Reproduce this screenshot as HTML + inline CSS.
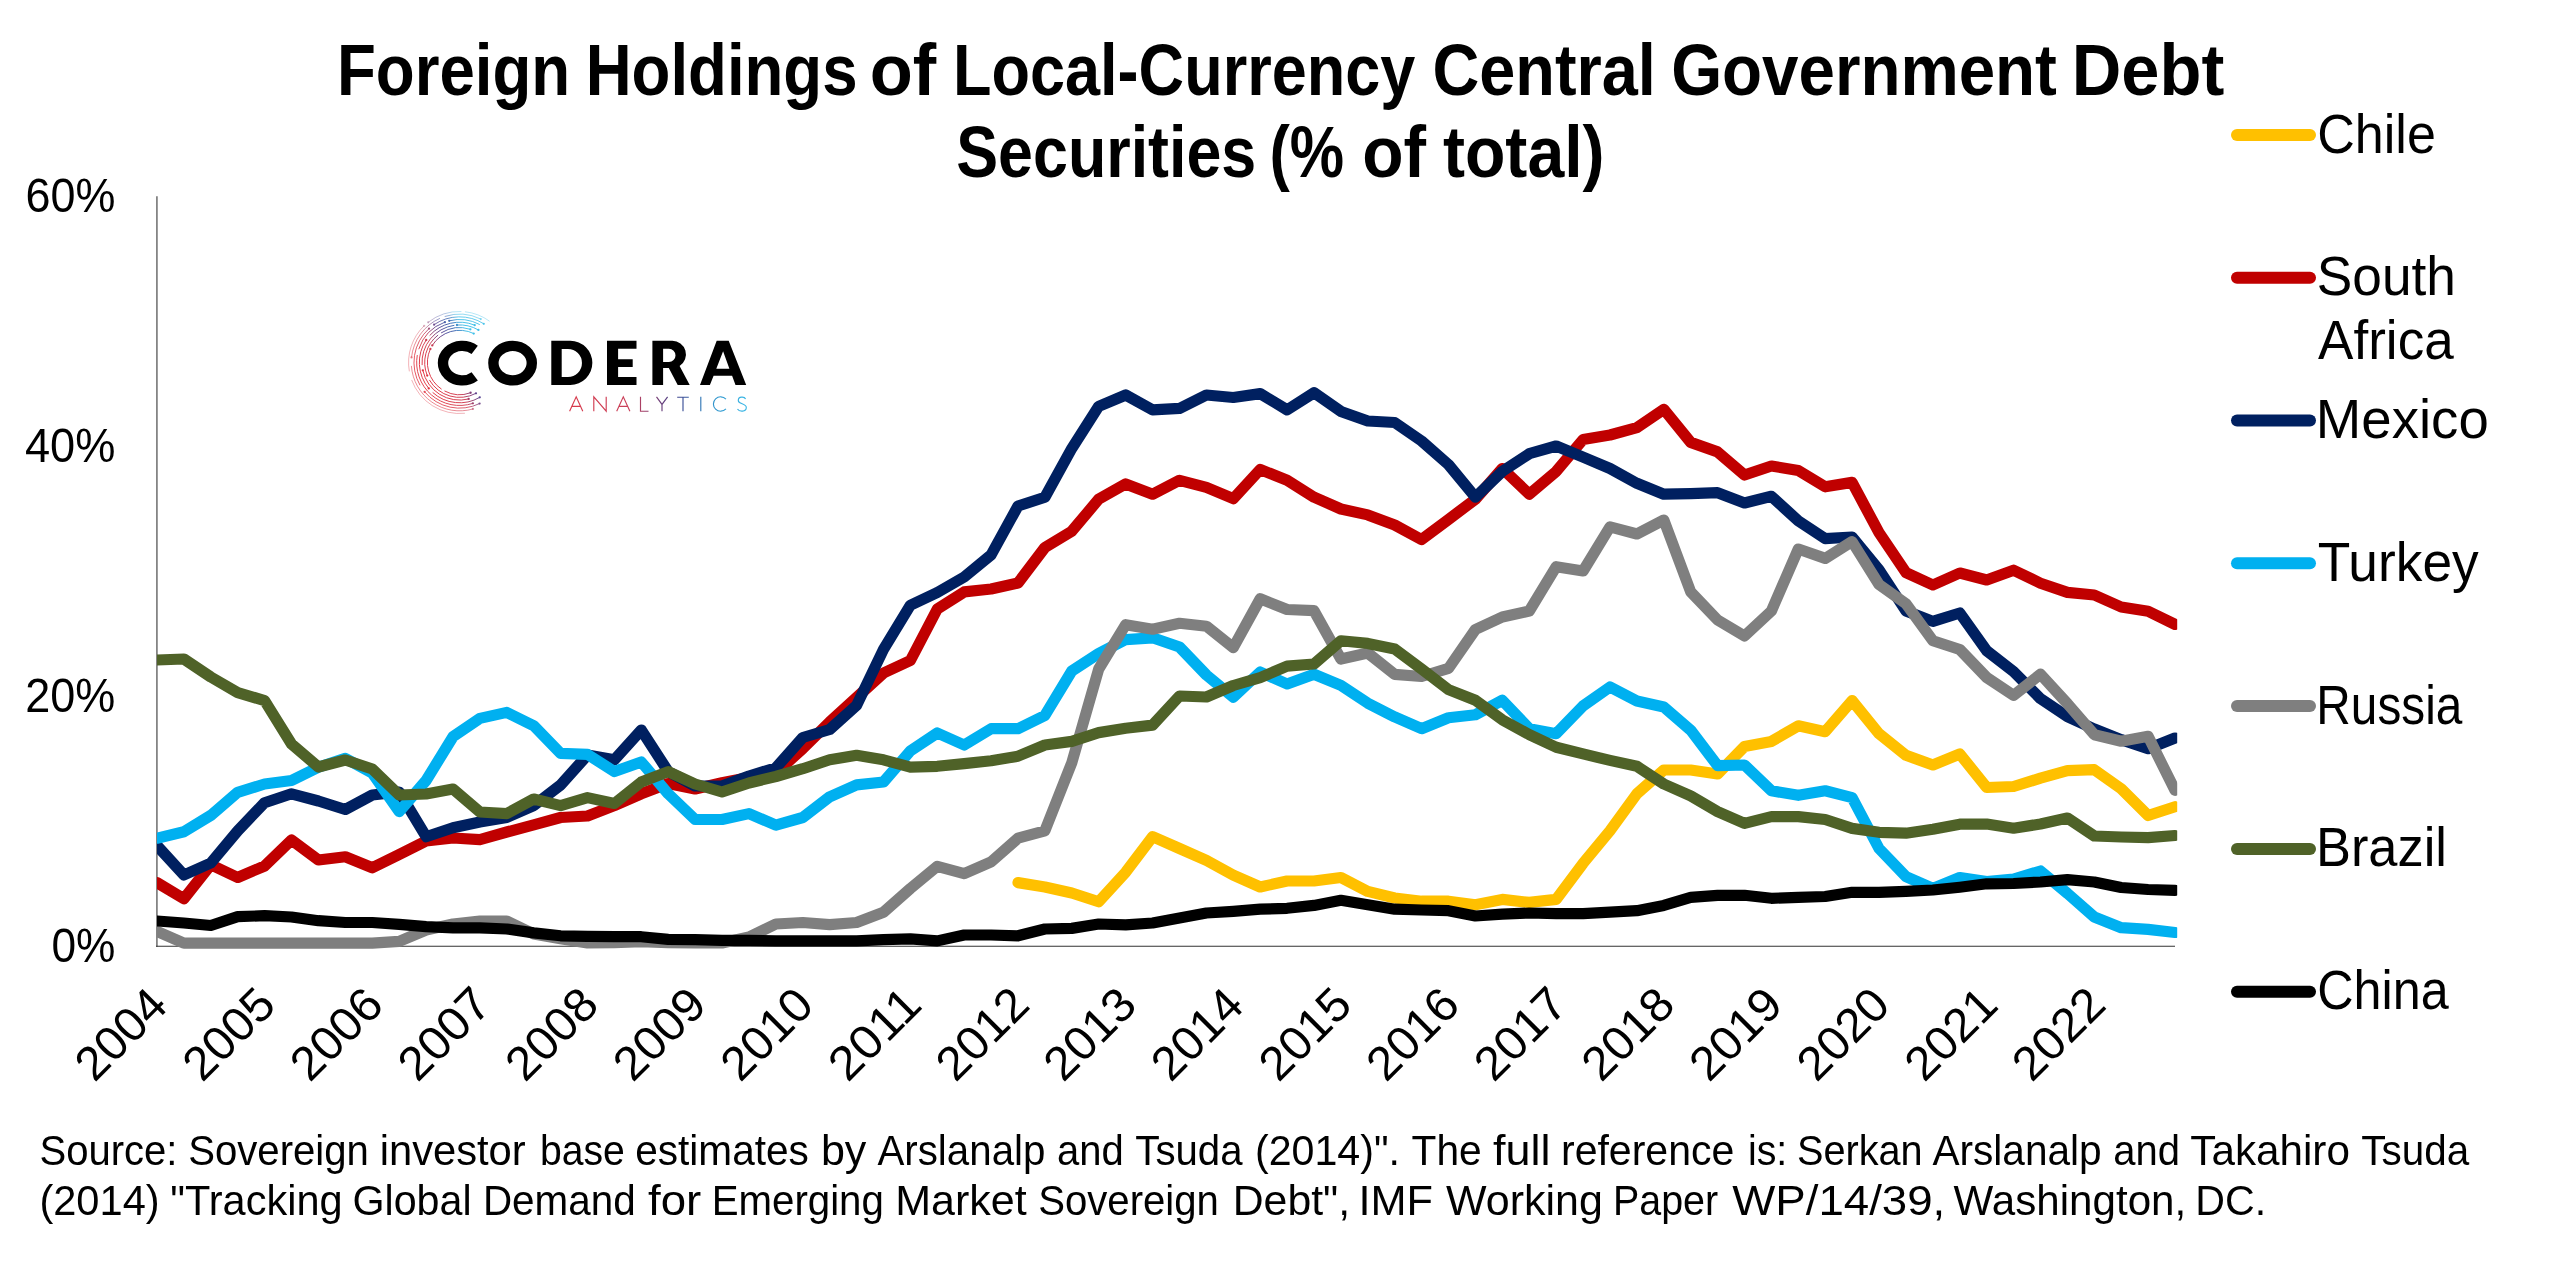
<!DOCTYPE html>
<html><head><meta charset="utf-8"><title>Foreign Holdings of Local-Currency Central Government Debt Securities</title>
<style>
html,body{margin:0;padding:0;background:#fff;}
body{width:2560px;height:1284px;overflow:hidden;font-family:"Liberation Sans",sans-serif;}
svg{display:block;will-change:transform;}
svg text{font-family:"Liberation Sans",sans-serif;fill:#000;}
</style></head><body>
<svg width="2560" height="1284" viewBox="0 0 2560 1284">
<defs>
<clipPath id="plot"><rect x="157" y="190" width="2020.2" height="770"/></clipPath>
<linearGradient id="lg" gradientUnits="userSpaceOnUse" x1="428" y1="380" x2="478" y2="350">
<stop offset="0" stop-color="#e0323f"/><stop offset="0.35" stop-color="#cf3a4e"/><stop offset="0.6" stop-color="#5b418f"/><stop offset="0.85" stop-color="#3a6ab5"/><stop offset="1" stop-color="#3fbfe8"/></linearGradient>
<linearGradient id="tg" gradientUnits="userSpaceOnUse" x1="569" y1="0" x2="746" y2="0">
<stop offset="0" stop-color="#d8394b"/><stop offset="0.35" stop-color="#c8405a"/><stop offset="0.6" stop-color="#3f3f8a"/><stop offset="0.8" stop-color="#2f8fc8"/><stop offset="1" stop-color="#3cb8e6"/></linearGradient>
</defs>
<!-- title -->
<text x="336.96" y="95.30" font-size="72.0" textLength="233.21" lengthAdjust="spacingAndGlyphs" font-weight="bold">Foreign</text>
<text x="585.71" y="95.30" font-size="72.0" textLength="271.83" lengthAdjust="spacingAndGlyphs" font-weight="bold">Holdings</text>
<text x="869.68" y="95.30" font-size="72.0" textLength="66.49" lengthAdjust="spacingAndGlyphs" font-weight="bold">of</text>
<text x="953.00" y="95.30" font-size="72.0" textLength="462.36" lengthAdjust="spacingAndGlyphs" font-weight="bold">Local-Currency</text>
<text x="1432.41" y="95.30" font-size="72.0" textLength="223.41" lengthAdjust="spacingAndGlyphs" font-weight="bold">Central</text>
<text x="1671.13" y="95.30" font-size="72.0" textLength="385.81" lengthAdjust="spacingAndGlyphs" font-weight="bold">Government</text>
<text x="2071.77" y="95.30" font-size="72.0" textLength="152.47" lengthAdjust="spacingAndGlyphs" font-weight="bold">Debt</text>
<text x="956.22" y="176.90" font-size="72.0" textLength="300.07" lengthAdjust="spacingAndGlyphs" font-weight="bold">Securities</text>
<text x="1269.44" y="176.90" font-size="72.0" textLength="74.72" lengthAdjust="spacingAndGlyphs" font-weight="bold">(%</text>
<text x="1362.29" y="176.90" font-size="72.0" textLength="63.88" lengthAdjust="spacingAndGlyphs" font-weight="bold">of</text>
<text x="1442.92" y="176.90" font-size="72.0" textLength="161.73" lengthAdjust="spacingAndGlyphs" font-weight="bold">total)</text>
<!-- axes -->
<line x1="156.9" x2="156.9" y1="196.3" y2="946.8" stroke="#848484" stroke-width="1.8"/>
<line x1="156" x2="2175" y1="946.3" y2="946.3" stroke="#333" stroke-width="1.05"/>
<!-- series -->
<g clip-path="url(#plot)" fill="none" stroke-width="11.2" stroke-linejoin="round" stroke-linecap="round">
<path d="M1018.0 882.6 L1044.9 887.0 L1071.8 893.0 L1098.7 901.8 L1125.7 872.2 L1152.6 836.7 L1179.5 848.5 L1206.4 860.4 L1233.3 875.2 L1260.2 887.0 L1287.1 881.0 L1314.0 881.0 L1340.9 877.5 L1367.8 891.4 L1394.7 898.0 L1421.6 901.2 L1448.5 901.2 L1475.4 904.8 L1502.3 899.4 L1529.3 902.4 L1556.2 899.4 L1583.1 863.3 L1610.0 830.8 L1636.9 793.8 L1663.8 770.0 L1690.7 770.0 L1717.6 774.0 L1744.5 746.5 L1771.4 741.4 L1798.3 725.8 L1825.2 731.7 L1852.1 700.6 L1879.0 733.7 L1906.0 755.3 L1932.9 765.0 L1959.8 754.0 L1986.7 787.5 L2013.6 786.5 L2040.5 778.2 L2067.4 770.7 L2094.3 769.7 L2121.2 788.7 L2148.1 815.5 L2175.0 806.7" stroke="#FFC000"/>
<path d="M157.0 882.6 L183.9 898.8 L210.8 864.8 L237.7 877.5 L264.6 866.0 L291.5 840.0 L318.4 860.0 L345.3 856.8 L372.3 867.8 L399.2 854.5 L426.1 841.0 L453.0 838.0 L479.9 839.7 L506.8 832.0 L533.7 824.9 L560.6 817.5 L587.5 816.0 L614.4 805.6 L641.3 793.8 L668.2 783.5 L695.1 789.0 L722.0 782.8 L749.0 777.5 L775.9 773.0 L802.8 748.5 L829.7 722.0 L856.6 697.5 L883.5 673.0 L910.4 660.5 L937.3 609.0 L964.2 591.9 L991.1 589.0 L1018.0 583.0 L1044.9 547.5 L1071.8 531.2 L1098.7 499.2 L1125.7 483.9 L1152.6 494.2 L1179.5 480.3 L1206.4 487.4 L1233.3 498.7 L1260.2 469.5 L1287.1 480.2 L1314.0 497.2 L1340.9 509.0 L1367.8 514.9 L1394.7 525.0 L1421.6 539.6 L1448.5 519.4 L1475.4 499.2 L1502.3 468.5 L1529.3 494.2 L1556.2 471.4 L1583.1 439.5 L1610.0 435.0 L1636.9 427.6 L1663.8 409.3 L1690.7 442.4 L1717.6 451.9 L1744.5 475.0 L1771.4 466.0 L1798.3 470.5 L1825.2 486.8 L1852.1 482.4 L1879.0 532.7 L1906.0 572.6 L1932.9 585.0 L1959.8 573.0 L1986.7 580.0 L2013.6 570.2 L2040.5 583.2 L2067.4 592.4 L2094.3 595.0 L2121.2 607.0 L2148.1 611.3 L2175.0 624.4" stroke="#C00000"/>
<path d="M157.0 845.6 L183.9 875.0 L210.8 863.0 L237.7 830.8 L264.6 802.7 L291.5 793.8 L318.4 801.0 L345.3 809.5 L372.3 795.0 L399.2 792.0 L426.1 836.7 L453.0 827.8 L479.9 822.0 L506.8 817.5 L533.7 805.6 L560.6 785.0 L587.5 755.0 L614.4 759.8 L641.3 730.0 L668.2 771.6 L695.1 786.0 L722.0 786.0 L749.0 776.0 L775.9 767.8 L802.8 737.5 L829.7 729.5 L856.6 705.4 L883.5 649.3 L910.4 605.2 L937.3 592.5 L964.2 577.0 L991.1 554.9 L1018.0 506.0 L1044.9 497.2 L1071.8 448.4 L1098.7 406.3 L1125.7 395.0 L1152.6 409.9 L1179.5 408.4 L1206.4 395.0 L1233.3 397.5 L1260.2 393.6 L1287.1 409.9 L1314.0 392.7 L1340.9 411.4 L1367.8 421.0 L1394.7 422.5 L1421.6 441.0 L1448.5 464.6 L1475.4 497.2 L1502.3 471.4 L1529.3 453.7 L1556.2 446.0 L1583.1 457.2 L1610.0 468.5 L1636.9 483.3 L1663.8 494.2 L1690.7 493.6 L1717.6 492.7 L1744.5 503.0 L1771.4 496.3 L1798.3 520.8 L1825.2 538.6 L1852.1 537.0 L1879.0 569.7 L1906.0 611.0 L1932.9 621.4 L1959.8 613.0 L1986.7 650.8 L2013.6 671.6 L2040.5 698.7 L2067.4 716.7 L2094.3 729.0 L2121.2 739.6 L2148.1 748.7 L2175.0 738.0" stroke="#002060"/>
<path d="M157.0 838.2 L183.9 831.7 L210.8 815.4 L237.7 792.3 L264.6 784.0 L291.5 780.5 L318.4 767.2 L345.3 758.3 L372.3 773.0 L399.2 811.6 L426.1 780.5 L453.0 736.7 L479.9 718.4 L506.8 712.4 L533.7 725.7 L560.6 753.3 L587.5 754.4 L614.4 771.6 L641.3 762.0 L668.2 793.8 L695.1 819.5 L722.0 819.5 L749.0 813.6 L775.9 825.2 L802.8 817.5 L829.7 796.8 L856.6 784.9 L883.5 782.0 L910.4 750.9 L937.3 733.0 L964.2 745.0 L991.1 728.7 L1018.0 728.7 L1044.9 715.4 L1071.8 671.0 L1098.7 653.5 L1125.7 639.6 L1152.6 637.8 L1179.5 647.0 L1206.4 675.0 L1233.3 697.2 L1260.2 672.0 L1287.1 684.0 L1314.0 674.3 L1340.9 685.4 L1367.8 703.2 L1394.7 716.9 L1421.6 728.7 L1448.5 717.8 L1475.4 714.8 L1502.3 700.3 L1529.3 728.7 L1556.2 733.7 L1583.1 705.9 L1610.0 687.0 L1636.9 701.0 L1663.8 707.0 L1690.7 730.2 L1717.6 765.7 L1744.5 765.0 L1771.4 790.8 L1798.3 795.3 L1825.2 790.8 L1852.1 797.6 L1879.0 848.5 L1906.0 876.7 L1932.9 888.5 L1959.8 877.5 L1986.7 881.5 L2013.6 879.0 L2040.5 871.0 L2067.4 893.4 L2094.3 917.0 L2121.2 927.7 L2148.1 929.4 L2175.0 932.5" stroke="#00B0F0"/>
<path d="M157.0 931.5 L183.9 943.2 L210.8 943.2 L237.7 943.2 L264.6 943.2 L291.5 943.2 L318.4 943.2 L345.3 943.2 L372.3 943.2 L399.2 941.3 L426.1 930.0 L453.0 924.0 L479.9 921.0 L506.8 921.0 L533.7 934.0 L560.6 938.8 L587.5 943.0 L614.4 942.6 L641.3 941.7 L668.2 942.6 L695.1 943.0 L722.0 943.0 L749.0 937.0 L775.9 924.0 L802.8 922.5 L829.7 924.6 L856.6 922.5 L883.5 912.2 L910.4 888.5 L937.3 866.3 L964.2 873.7 L991.1 861.9 L1018.0 838.2 L1044.9 830.8 L1071.8 762.7 L1098.7 669.0 L1125.7 624.7 L1152.6 629.2 L1179.5 623.3 L1206.4 626.2 L1233.3 647.6 L1260.2 598.8 L1287.1 609.5 L1314.0 610.7 L1340.9 659.0 L1367.8 653.0 L1394.7 674.4 L1421.6 676.5 L1448.5 668.4 L1475.4 629.5 L1502.3 617.0 L1529.3 611.0 L1556.2 566.7 L1583.1 571.0 L1610.0 526.8 L1636.9 534.0 L1663.8 520.0 L1690.7 591.9 L1717.6 620.0 L1744.5 636.0 L1771.4 611.0 L1798.3 549.0 L1825.2 558.4 L1852.1 541.6 L1879.0 584.5 L1906.0 603.7 L1932.9 640.7 L1959.8 649.5 L1986.7 677.5 L2013.6 695.4 L2040.5 674.2 L2067.4 703.6 L2094.3 734.7 L2121.2 741.2 L2148.1 736.3 L2175.0 790.3" stroke="#7F7F7F"/>
<path d="M157.0 660.0 L183.9 659.0 L210.8 677.0 L237.7 692.6 L264.6 700.6 L291.5 744.0 L318.4 767.0 L345.3 760.0 L372.3 769.0 L399.2 795.0 L426.1 794.0 L453.0 789.0 L479.9 812.0 L506.8 813.6 L533.7 799.0 L560.6 805.6 L587.5 797.6 L614.4 803.5 L641.3 782.0 L668.2 771.6 L695.1 784.0 L722.0 792.0 L749.0 783.0 L775.9 776.5 L802.8 768.7 L829.7 759.8 L856.6 755.3 L883.5 759.8 L910.4 767.2 L937.3 766.3 L964.2 763.6 L991.1 760.7 L1018.0 756.2 L1044.9 745.0 L1071.8 741.4 L1098.7 732.6 L1125.7 728.2 L1152.6 725.1 L1179.5 696.0 L1206.4 697.0 L1233.3 685.5 L1260.2 677.6 L1287.1 666.2 L1314.0 664.0 L1340.9 640.8 L1367.8 643.4 L1394.7 649.1 L1421.6 669.0 L1448.5 689.6 L1475.4 700.3 L1502.3 719.8 L1529.3 734.6 L1556.2 747.3 L1583.1 753.9 L1610.0 760.4 L1636.9 766.3 L1663.8 784.0 L1690.7 795.9 L1717.6 811.6 L1744.5 823.4 L1771.4 816.6 L1798.3 816.6 L1825.2 819.5 L1852.1 828.4 L1879.0 832.3 L1906.0 833.2 L1932.9 829.3 L1959.8 824.2 L1986.7 824.0 L2013.6 828.2 L2040.5 824.0 L2067.4 818.0 L2094.3 836.0 L2121.2 837.0 L2148.1 837.7 L2175.0 835.5" stroke="#4F6228"/>
<path d="M157.0 921.0 L183.9 923.0 L210.8 925.5 L237.7 916.6 L264.6 915.7 L291.5 917.0 L318.4 920.7 L345.3 922.5 L372.3 922.5 L399.2 924.3 L426.1 926.7 L453.0 927.8 L479.9 927.8 L506.8 929.0 L533.7 932.9 L560.6 935.8 L587.5 936.4 L614.4 936.7 L641.3 936.7 L668.2 939.4 L695.1 939.7 L722.0 940.3 L749.0 940.3 L775.9 940.9 L802.8 940.9 L829.7 940.9 L856.6 940.9 L883.5 939.7 L910.4 938.8 L937.3 940.9 L964.2 935.0 L991.1 935.0 L1018.0 935.8 L1044.9 929.0 L1071.8 928.4 L1098.7 924.0 L1125.7 924.9 L1152.6 923.0 L1179.5 918.0 L1206.4 913.0 L1233.3 911.3 L1260.2 909.2 L1287.1 908.3 L1314.0 905.4 L1340.9 900.3 L1367.8 904.8 L1394.7 909.2 L1421.6 910.0 L1448.5 910.7 L1475.4 916.0 L1502.3 914.2 L1529.3 913.0 L1556.2 913.6 L1583.1 913.6 L1610.0 912.2 L1636.9 910.7 L1663.8 905.4 L1690.7 897.4 L1717.6 895.3 L1744.5 895.3 L1771.4 898.3 L1798.3 897.4 L1825.2 896.5 L1852.1 892.3 L1879.0 892.3 L1906.0 891.4 L1932.9 890.0 L1959.8 887.2 L1986.7 883.8 L2013.6 883.5 L2040.5 882.0 L2067.4 879.6 L2094.3 882.0 L2121.2 887.5 L2148.1 889.5 L2175.0 890.3" stroke="#000000"/>
</g>
<!-- y labels -->
<g>
<text x="25.45" y="211.80" font-size="47.5" textLength="89.89" lengthAdjust="spacingAndGlyphs">60%</text>
<text x="24.88" y="461.80" font-size="47.5" textLength="90.47" lengthAdjust="spacingAndGlyphs">40%</text>
<text x="25.25" y="711.80" font-size="47.5" textLength="90.09" lengthAdjust="spacingAndGlyphs">20%</text>
<text x="51.43" y="961.80" font-size="47.5" textLength="63.94" lengthAdjust="spacingAndGlyphs">0%</text>
</g>
<!-- x labels -->
<g>
<text transform="translate(168.90,1008.80) rotate(-45)" x="-105.20" y="0" font-size="47.5" textLength="106.62" lengthAdjust="spacingAndGlyphs">2004</text>
<text transform="translate(276.53,1008.80) rotate(-45)" x="-105.21" y="0" font-size="47.5" textLength="107.24" lengthAdjust="spacingAndGlyphs">2005</text>
<text transform="translate(384.16,1008.80) rotate(-45)" x="-105.21" y="0" font-size="47.5" textLength="107.37" lengthAdjust="spacingAndGlyphs">2006</text>
<text transform="translate(491.78,1008.80) rotate(-45)" x="-105.22" y="0" font-size="47.5" textLength="107.75" lengthAdjust="spacingAndGlyphs">2007</text>
<text transform="translate(599.41,1008.80) rotate(-45)" x="-105.21" y="0" font-size="47.5" textLength="107.37" lengthAdjust="spacingAndGlyphs">2008</text>
<text transform="translate(707.04,1008.80) rotate(-45)" x="-105.22" y="0" font-size="47.5" textLength="107.50" lengthAdjust="spacingAndGlyphs">2009</text>
<text transform="translate(814.67,1008.80) rotate(-45)" x="-105.21" y="0" font-size="47.5" textLength="107.12" lengthAdjust="spacingAndGlyphs">2010</text>
<text transform="translate(922.30,1008.80) rotate(-45)" x="-105.30" y="0" font-size="47.5" textLength="107.71" lengthAdjust="spacingAndGlyphs">2011</text>
<text transform="translate(1029.92,1008.80) rotate(-45)" x="-105.22" y="0" font-size="47.5" textLength="107.75" lengthAdjust="spacingAndGlyphs">2012</text>
<text transform="translate(1137.55,1008.80) rotate(-45)" x="-105.21" y="0" font-size="47.5" textLength="107.37" lengthAdjust="spacingAndGlyphs">2013</text>
<text transform="translate(1245.18,1008.80) rotate(-45)" x="-105.20" y="0" font-size="47.5" textLength="106.62" lengthAdjust="spacingAndGlyphs">2014</text>
<text transform="translate(1352.81,1008.80) rotate(-45)" x="-105.21" y="0" font-size="47.5" textLength="107.24" lengthAdjust="spacingAndGlyphs">2015</text>
<text transform="translate(1460.44,1008.80) rotate(-45)" x="-105.21" y="0" font-size="47.5" textLength="107.37" lengthAdjust="spacingAndGlyphs">2016</text>
<text transform="translate(1568.06,1008.80) rotate(-45)" x="-105.22" y="0" font-size="47.5" textLength="107.75" lengthAdjust="spacingAndGlyphs">2017</text>
<text transform="translate(1675.69,1008.80) rotate(-45)" x="-105.21" y="0" font-size="47.5" textLength="107.37" lengthAdjust="spacingAndGlyphs">2018</text>
<text transform="translate(1783.32,1008.80) rotate(-45)" x="-105.22" y="0" font-size="47.5" textLength="107.50" lengthAdjust="spacingAndGlyphs">2019</text>
<text transform="translate(1890.95,1008.80) rotate(-45)" x="-105.21" y="0" font-size="47.5" textLength="107.12" lengthAdjust="spacingAndGlyphs">2020</text>
<text transform="translate(1998.58,1008.80) rotate(-45)" x="-105.22" y="0" font-size="47.5" textLength="107.62" lengthAdjust="spacingAndGlyphs">2021</text>
<text transform="translate(2106.20,1008.80) rotate(-45)" x="-105.22" y="0" font-size="47.5" textLength="107.75" lengthAdjust="spacingAndGlyphs">2022</text>
</g>
<!-- legend -->
<line x1="2237" x2="2310" y1="135.0" y2="135.0" stroke="#FFC000" stroke-width="12" stroke-linecap="round"/>
<text x="2317.20" y="152.50" font-size="55.2" textLength="118.69" lengthAdjust="spacingAndGlyphs">Chile</text>
<line x1="2237" x2="2310" y1="277.8" y2="277.8" stroke="#C00000" stroke-width="12" stroke-linecap="round"/>
<text x="2316.80" y="295.28" font-size="55.2" textLength="139.21" lengthAdjust="spacingAndGlyphs">South</text>
<text x="2318.07" y="358.68" font-size="55.2" textLength="135.60" lengthAdjust="spacingAndGlyphs">Africa</text>
<line x1="2237" x2="2310" y1="420.6" y2="420.6" stroke="#002060" stroke-width="12" stroke-linecap="round"/>
<text x="2315.79" y="438.06" font-size="55.2" textLength="172.99" lengthAdjust="spacingAndGlyphs">Mexico</text>
<line x1="2237" x2="2310" y1="563.3" y2="563.3" stroke="#00B0F0" stroke-width="12" stroke-linecap="round"/>
<text x="2317.80" y="580.84" font-size="55.2" textLength="160.88" lengthAdjust="spacingAndGlyphs">Turkey</text>
<line x1="2237" x2="2310" y1="706.1" y2="706.1" stroke="#7F7F7F" stroke-width="12" stroke-linecap="round"/>
<text x="2316.36" y="723.62" font-size="55.2" textLength="146.02" lengthAdjust="spacingAndGlyphs">Russia</text>
<line x1="2237" x2="2310" y1="848.9" y2="848.9" stroke="#4F6228" stroke-width="12" stroke-linecap="round"/>
<text x="2315.98" y="866.40" font-size="55.2" textLength="130.99" lengthAdjust="spacingAndGlyphs">Brazil</text>
<line x1="2237" x2="2310" y1="991.7" y2="991.7" stroke="#000000" stroke-width="12" stroke-linecap="round"/>
<text x="2317.29" y="1009.18" font-size="55.2" textLength="131.33" lengthAdjust="spacingAndGlyphs">China</text>
<!-- LOGO -->
<g fill="none" stroke="url(#lg)" stroke-width="0.95">
<path d="M470.61 392.76 A32.20 32.20 0 0 1 444.48 390.93 M441.59 389.20 A32.20 32.20 0 0 1 430.42 348.89 M432.29 345.44 A32.20 32.20 0 0 1 473.72 333.56" opacity="1"/>
<path d="M475.98 393.31 A34.89 34.89 0 0 1 429.38 379.94 M427.25 375.57 A34.89 34.89 0 0 1 438.12 335.01 M441.11 332.91 A34.89 34.89 0 0 1 470.38 329.32" opacity="1"/>
<path d="M468.69 398.96 A37.58 37.58 0 0 1 422.84 370.31 M422.11 365.12 A37.58 37.58 0 0 1 454.37 325.29 M456.98 325.01 A37.58 37.58 0 0 1 478.39 329.95" opacity="1"/>
<path d="M479.74 397.37 A40.27 40.27 0 0 1 432.65 392.43 M428.75 388.39 A40.27 40.27 0 0 1 426.21 339.98 M429.67 335.55 A40.27 40.27 0 0 1 474.69 325.16" opacity="1"/>
<path d="M472.88 403.36 A42.96 42.96 0 0 1 417.29 355.04 M418.74 349.22 A42.96 42.96 0 0 1 444.91 322.13 M449.21 320.82 A42.96 42.96 0 0 1 479.77 324.57" opacity="0.95"/>
<path d="M479.61 403.53 A45.65 45.65 0 0 1 424.63 391.84 M420.07 385.32 A45.65 45.65 0 0 1 429.05 328.58 M434.07 324.65 A45.65 45.65 0 0 1 483.79 323.79" opacity="0.85"/>
<path d="M472.92 408.97 A48.34 48.34 0 0 1 411.38 365.87 M411.52 357.45 A48.34 48.34 0 0 1 439.94 318.34 M444.66 316.53 A48.34 48.34 0 0 1 480.79 319.05" opacity="0.6"/>
<path d="M464.93 413.25 A51.03 51.03 0 0 1 411.65 379.95 M409.35 371.36 A51.03 51.03 0 0 1 424.15 325.79 M428.18 322.29 A51.03 51.03 0 0 1 461.38 311.50 M464.93 311.75 A51.03 51.03 0 0 1 489.59 321.22" opacity="0.4"/>
</g>
<g fill="url(#lg)"><circle cx="470.61" cy="392.76" r="1.15" opacity="1"/><circle cx="430.42" cy="348.89" r="1.15" opacity="1"/><circle cx="432.29" cy="345.44" r="1.15" opacity="1"/><circle cx="473.72" cy="333.56" r="1.15" opacity="1"/><circle cx="475.98" cy="393.31" r="1.15" opacity="1"/><circle cx="427.25" cy="375.57" r="1.15" opacity="1"/><circle cx="470.38" cy="329.32" r="1.15" opacity="1"/><circle cx="468.69" cy="398.96" r="1.15" opacity="1"/><circle cx="422.84" cy="370.31" r="1.15" opacity="1"/><circle cx="456.98" cy="325.01" r="1.15" opacity="1"/><circle cx="478.39" cy="329.95" r="1.15" opacity="1"/><circle cx="479.74" cy="397.37" r="1.15" opacity="1"/><circle cx="428.75" cy="388.39" r="1.15" opacity="1"/><circle cx="426.21" cy="339.98" r="1.15" opacity="1"/><circle cx="474.69" cy="325.16" r="1.15" opacity="1"/><circle cx="472.88" cy="403.36" r="1.15" opacity="0.95"/><circle cx="444.91" cy="322.13" r="1.15" opacity="0.95"/><circle cx="449.21" cy="320.82" r="1.15" opacity="0.95"/><circle cx="479.61" cy="403.53" r="1.15" opacity="0.85"/><circle cx="424.63" cy="391.84" r="1.15" opacity="0.85"/><circle cx="429.05" cy="328.58" r="1.15" opacity="0.85"/><circle cx="434.07" cy="324.65" r="1.15" opacity="0.85"/><circle cx="483.79" cy="323.79" r="1.15" opacity="0.85"/><circle cx="472.92" cy="408.97" r="1.15" opacity="0.6"/><circle cx="411.52" cy="357.45" r="1.15" opacity="0.6"/><circle cx="480.79" cy="319.05" r="1.15" opacity="0.6"/><circle cx="424.15" cy="325.79" r="1.15" opacity="0.4"/><circle cx="428.18" cy="322.29" r="1.15" opacity="0.4"/></g>
<g fill="none" stroke="#000" stroke-width="10.4">
<path d="M474.71 376.31 A19.30 17.25 0 1 1 474.71 349.89"/>
<ellipse cx="512.6" cy="363.1" rx="19.2" ry="17.25"/>
</g>
<g fill="#000">
<path fill-rule="evenodd" d="M551.3 340.8H570.3A22.05 22.05 0 0 1 570.3 384.9H551.3Z M561.7 348.9H567.9A14.05 14.05 0 0 1 567.9 377H561.7Z"/>
<path d="M607 340.8H636.5V348.8H618.1V359.2H632.7V367.1H618.1V377H636.5V384.9H607Z"/>
<path fill-rule="evenodd" d="M652.4 340.8H672.2A13.6 13.6 0 0 1 679.6 365.9L689.7 384.9H677.7L668.8 368H663.1V384.9H652.4Z M663.1 348.8H668.9A6.6 6.6 0 0 1 668.9 362H663.1Z"/>
<path fill-rule="evenodd" d="M700 384.9L716.7 340.8H728.7L746.2 384.9H735.5L732.1 375.8H713.6L709.9 384.9Z M716.3 368.7L723.1 351.3L729.4 368.7Z"/>
</g>
<g fill="none" stroke="url(#tg)" stroke-width="1.15">
<path d="M569.60 411.20L576.20 396.80L582.80 411.20M571.84 406.30H580.56"/>
<path d="M593.8 411.20V396.80L606.2 411.20V396.80"/>
<path d="M616.70 411.20L623.30 396.80L629.90 411.20M618.94 406.30H627.66"/>
<path d="M640.5 396.80V411.20H648.5"/>
<path d="M656.5 396.80L662 404.40L667.6 396.80M662 404.40V411.20"/>
<path d="M677.2 397.20H688.8M683 397.20V411.20"/>
<path d="M700.8 396.80V411.20"/>
<path d="M725.95 408.82A7.20 7.20 0 1 1 725.95 399.18"/>
<path d="M745.6 399.00C744.5 396.40 738.3 396.20 738.3 400.40C738.3 404.40 746.3 403.20 746.3 407.60C746.3 412.20 739.2 412.00 737.5 409.00"/>
</g>

<!-- source -->
<g>
<text x="39.45" y="1165.20" font-size="42.8" textLength="137.96" lengthAdjust="spacingAndGlyphs">Source:</text>
<text x="188.19" y="1165.20" font-size="42.8" textLength="180.69" lengthAdjust="spacingAndGlyphs">Sovereign</text>
<text x="379.69" y="1165.20" font-size="42.8" textLength="146.01" lengthAdjust="spacingAndGlyphs">investor</text>
<text x="539.96" y="1165.20" font-size="42.8" textLength="84.85" lengthAdjust="spacingAndGlyphs">base</text>
<text x="635.17" y="1165.20" font-size="42.8" textLength="173.72" lengthAdjust="spacingAndGlyphs">estimates</text>
<text x="820.95" y="1165.20" font-size="42.8" textLength="45.46" lengthAdjust="spacingAndGlyphs">by</text>
<text x="877.40" y="1165.20" font-size="42.8" textLength="168.03" lengthAdjust="spacingAndGlyphs">Arslanalp</text>
<text x="1057.05" y="1165.20" font-size="42.8" textLength="66.74" lengthAdjust="spacingAndGlyphs">and</text>
<text x="1135.35" y="1165.20" font-size="42.8" textLength="107.20" lengthAdjust="spacingAndGlyphs">Tsuda</text>
<text x="1254.93" y="1165.20" font-size="42.8" textLength="145.07" lengthAdjust="spacingAndGlyphs">(2014)&quot;.</text>
<text x="1411.58" y="1165.20" font-size="42.8" textLength="70.18" lengthAdjust="spacingAndGlyphs">The</text>
<text x="1493.08" y="1165.20" font-size="42.8" textLength="57.50" lengthAdjust="spacingAndGlyphs">full</text>
<text x="1560.98" y="1165.20" font-size="42.8" textLength="173.36" lengthAdjust="spacingAndGlyphs">reference</text>
<text x="1747.94" y="1165.20" font-size="42.8" textLength="39.35" lengthAdjust="spacingAndGlyphs">is:</text>
<text x="1796.97" y="1165.20" font-size="42.8" textLength="125.65" lengthAdjust="spacingAndGlyphs">Serkan</text>
<text x="1932.40" y="1165.20" font-size="42.8" textLength="169.29" lengthAdjust="spacingAndGlyphs">Arslanalp</text>
<text x="2113.30" y="1165.20" font-size="42.8" textLength="66.74" lengthAdjust="spacingAndGlyphs">and</text>
<text x="2190.30" y="1165.20" font-size="42.8" textLength="159.59" lengthAdjust="spacingAndGlyphs">Takahiro</text>
<text x="2361.29" y="1165.20" font-size="42.8" textLength="107.85" lengthAdjust="spacingAndGlyphs">Tsuda</text>
<text x="39.40" y="1214.60" font-size="42.8" textLength="120.23" lengthAdjust="spacingAndGlyphs">(2014)</text>
<text x="170.24" y="1214.60" font-size="42.8" textLength="172.36" lengthAdjust="spacingAndGlyphs">&quot;Tracking</text>
<text x="352.44" y="1214.60" font-size="42.8" textLength="119.12" lengthAdjust="spacingAndGlyphs">Global</text>
<text x="482.91" y="1214.60" font-size="42.8" textLength="152.81" lengthAdjust="spacingAndGlyphs">Demand</text>
<text x="648.07" y="1214.60" font-size="42.8" textLength="53.20" lengthAdjust="spacingAndGlyphs">for</text>
<text x="711.68" y="1214.60" font-size="42.8" textLength="172.18" lengthAdjust="spacingAndGlyphs">Emerging</text>
<text x="895.20" y="1214.60" font-size="42.8" textLength="131.42" lengthAdjust="spacingAndGlyphs">Market</text>
<text x="1038.19" y="1214.60" font-size="42.8" textLength="180.69" lengthAdjust="spacingAndGlyphs">Sovereign</text>
<text x="1232.72" y="1214.60" font-size="42.8" textLength="117.39" lengthAdjust="spacingAndGlyphs">Debt&quot;,</text>
<text x="1358.49" y="1214.60" font-size="42.8" textLength="74.56" lengthAdjust="spacingAndGlyphs">IMF</text>
<text x="1446.04" y="1214.60" font-size="42.8" textLength="156.74" lengthAdjust="spacingAndGlyphs">Working</text>
<text x="1613.00" y="1214.60" font-size="42.8" textLength="105.13" lengthAdjust="spacingAndGlyphs">Paper</text>
<text x="1732.27" y="1214.60" font-size="42.8" textLength="213.04" lengthAdjust="spacingAndGlyphs">WP/14/39,</text>
<text x="1953.54" y="1214.60" font-size="42.8" textLength="232.72" lengthAdjust="spacingAndGlyphs">Washington,</text>
<text x="2195.36" y="1214.60" font-size="42.8" textLength="70.83" lengthAdjust="spacingAndGlyphs">DC.</text>
</g>
</svg>
</body></html>
